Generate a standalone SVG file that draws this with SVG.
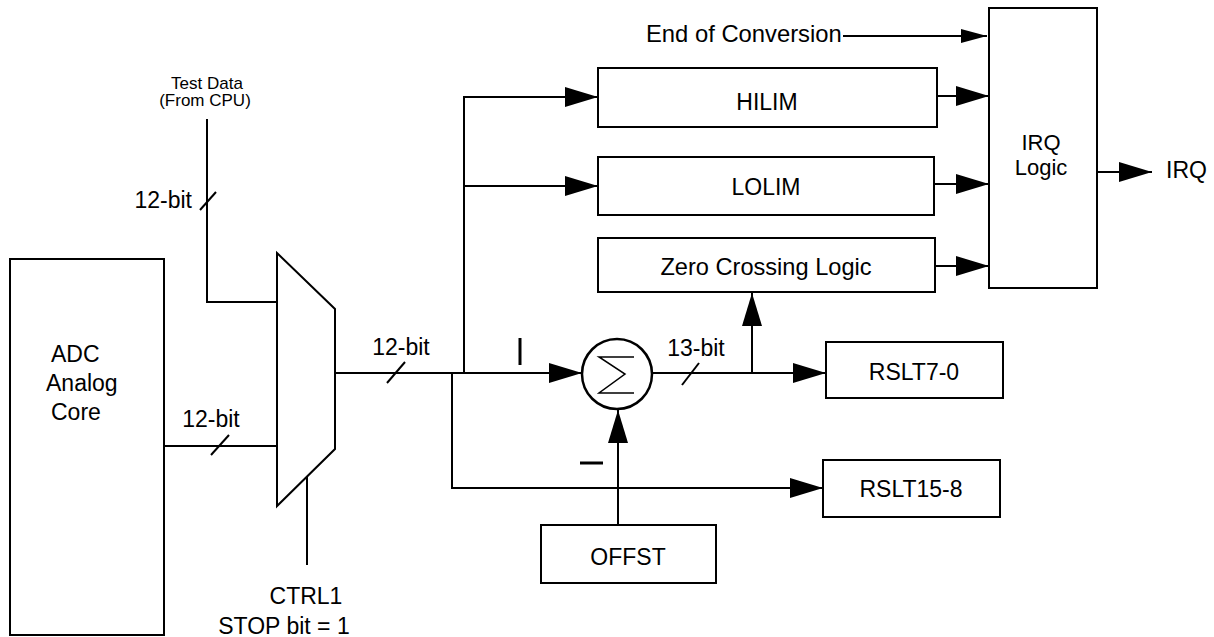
<svg xmlns="http://www.w3.org/2000/svg" width="1214" height="637" viewBox="0 0 1214 637">
<style>
text{font-family:"Liberation Sans",Arial,sans-serif;fill:#000;font-size:23px}
.box{fill:#fff;stroke:#000;stroke-width:2}
.ln{fill:none;stroke:#000;stroke-width:2}
.c{text-anchor:middle}
.arr{marker-end:url(#ah)}
.sarr{marker-end:url(#sah)}
</style>
<defs>
<marker id="ah" markerUnits="userSpaceOnUse" markerWidth="34" markerHeight="20" refX="33" refY="10" orient="auto"><path d="M0,0 L33,10 L0,20 z" fill="#000"/></marker>
<marker id="sah" markerUnits="userSpaceOnUse" markerWidth="27" markerHeight="14" refX="26" refY="7" orient="auto"><path d="M0,0 L26,7 L0,14 z" fill="#000"/></marker>
</defs>
<rect width="1214" height="637" fill="#fff"/>
<g id="connectors">
<polyline class="ln" points="207,119 207,302 277,302"/>
<line class="ln" x1="164" y1="446" x2="277" y2="446"/>
<line class="ln" x1="307" y1="477" x2="307" y2="565"/>
<line class="ln arr" x1="335" y1="373" x2="582" y2="373"/>
<polyline class="ln arr" points="464,373 464,97 598,97"/>
<line class="ln arr" x1="464" y1="186" x2="598" y2="186"/>
<polyline class="ln arr" points="452,373 452,488 823,488"/>
<line class="ln arr" x1="652" y1="373" x2="826" y2="373"/>
<line class="ln arr" x1="752" y1="373" x2="752" y2="293"/>
<line class="ln arr" x1="618" y1="525" x2="618" y2="410"/>
<line class="ln arr" x1="937" y1="96" x2="989" y2="96"/>
<line class="ln arr" x1="934" y1="184" x2="989" y2="184"/>
<line class="ln arr" x1="935" y1="266" x2="989" y2="266"/>
<line class="ln sarr" x1="843" y1="36" x2="987" y2="36"/>
<line class="ln arr" x1="1097" y1="172" x2="1152" y2="172"/>
<line class="ln" x1="200" y1="210" x2="216" y2="192"/>
<line class="ln" x1="211" y1="455" x2="229" y2="435"/>
<line class="ln" x1="387" y1="383" x2="405" y2="362"/>
<line class="ln" x1="682" y1="385" x2="699" y2="363"/>
</g>
<g id="test-data"><text class="c" x="207" y="89" style="font-size:17px">Test Data</text><text class="c" x="205" y="106" style="font-size:17px">(From CPU)</text></g>
<g id="bit-labels">
<text x="192" y="208" text-anchor="end">12-bit</text>
<text class="c" x="211" y="427">12-bit</text>
<text class="c" x="401" y="355">12-bit</text>
<text class="c" x="696" y="356">13-bit</text>
</g>
<g id="adc"><rect class="box" x="10" y="259" width="154" height="376"/>
<text x="51" y="362">ADC</text><text x="46" y="391">Analog</text><text x="51" y="420">Core</text></g>
<g id="mux"><polygon class="box" points="277,253 335,309 335,449 277,506"/></g>
<g id="ctrl1"><text class="c" x="306" y="604">CTRL1</text><text class="c" x="284" y="634">STOP bit = 1</text></g>
<g id="eoc"><text x="646" y="42" style="font-size:23.8px">End of Conversion</text></g>
<g id="hilim"><rect class="box" x="598" y="68" width="339" height="59"/><text class="c" x="767" y="110">HILIM</text></g>
<g id="lolim"><rect class="box" x="598" y="157" width="336" height="58"/><text class="c" x="766" y="195">LOLIM</text></g>
<g id="zcl"><rect class="box" x="598" y="238" width="337" height="54"/><text class="c" x="766" y="275" style="font-size:23.6px">Zero Crossing Logic</text></g>
<g id="irq-logic"><rect class="box" x="989" y="8" width="108" height="280"/><text class="c" x="1041" y="150" style="font-size:22px">IRQ</text><text class="c" x="1041" y="175" style="font-size:22px">Logic</text></g>
<g id="irq-out"><text x="1166" y="178">IRQ</text></g>
<g id="sum"><circle class="box" cx="617" cy="374" r="35" style="stroke-width:2.5"/>
<polyline fill="none" stroke="#000" stroke-width="1.5" points="634,357 599,357 625,374 599,393 634,393"/>
<line x1="520" y1="338" x2="520" y2="365" stroke="#000" stroke-width="3"/>
<line x1="580" y1="463" x2="603" y2="463" stroke="#000" stroke-width="3"/></g>
<g id="rslt70"><rect class="box" x="826" y="342" width="177" height="56"/><text class="c" x="914" y="380">RSLT7-0</text></g>
<g id="rslt158"><rect class="box" x="823" y="460" width="177" height="57"/><text class="c" x="911" y="497">RSLT15-8</text></g>
<g id="offst"><rect class="box" x="541" y="525" width="175" height="58"/><text class="c" x="628" y="565">OFFST</text></g>
</svg>
